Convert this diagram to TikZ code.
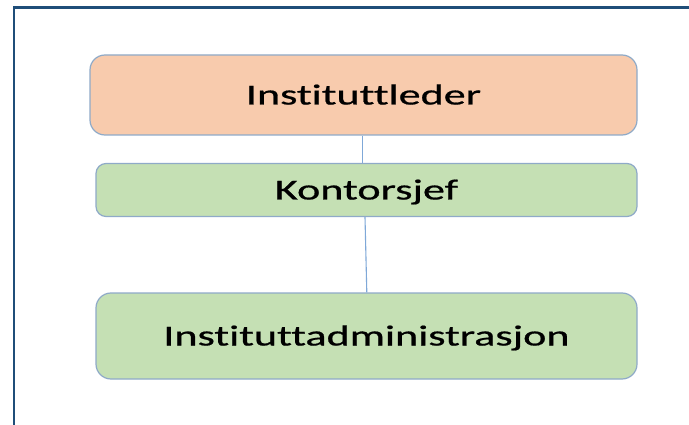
\documentclass[tikz,border=0pt]{standalone}
\usepackage{fontspec}
\setmainfont{Carlito}[Ligatures={NoCommon}]
\newfontfamily\boxfont{Carlito}[Ligatures={NoCommon},FakeBold=0.6]
\definecolor{framecol}{RGB}{31,78,121}
\definecolor{boxline}{RGB}{143,170,200}
\definecolor{orangefill}{RGB}{248,203,173}
\definecolor{greenfill}{RGB}{197,224,180}
\definecolor{conncol}{RGB}{127,168,216}
\newcommand{\wtext}[1]{\scalebox{1.52}[1]{\boxfont\fontsize{29}{29}\selectfont #1}}
\tikzset{
  orgbox/.style={draw=boxline, line width=1.2pt, inner sep=0pt, text height=19pt, text depth=0pt, text=black},
  conn/.style={draw=conncol, line width=1.1pt}
}
\begin{document}
\begin{tikzpicture}[x=1pt,y=-1pt]
\useasboundingbox (0,0) rectangle (689,425);
\fill[white] (0,0) rectangle (689,425);
\draw[framecol, line width=2.5pt] (14,425) -- (14,7.5) -- (689,7.5);
\node[orgbox, fill=orangefill, rounded corners=15pt, minimum width=547pt, minimum height=80pt] (lead) at (363.5,95) {\wtext{Instituttleder}};
\node[orgbox, fill=greenfill, rounded corners=10pt, minimum width=541pt, minimum height=53pt] (kont) at (366.5,190) {\wtext{Kontorsjef}};
\node[orgbox, fill=greenfill, rounded corners=15pt, minimum width=541pt, minimum height=86pt] (adm) at (366.5,336) {\wtext{Instituttadministrasjon}};
\draw[conn] ([xshift=-1pt]lead.south) -- ([xshift=-4pt]kont.north);
\draw[conn] ([xshift=-1.5pt]kont.south) -- ([xshift=0.3pt]adm.north);
\end{tikzpicture}
\end{document}
